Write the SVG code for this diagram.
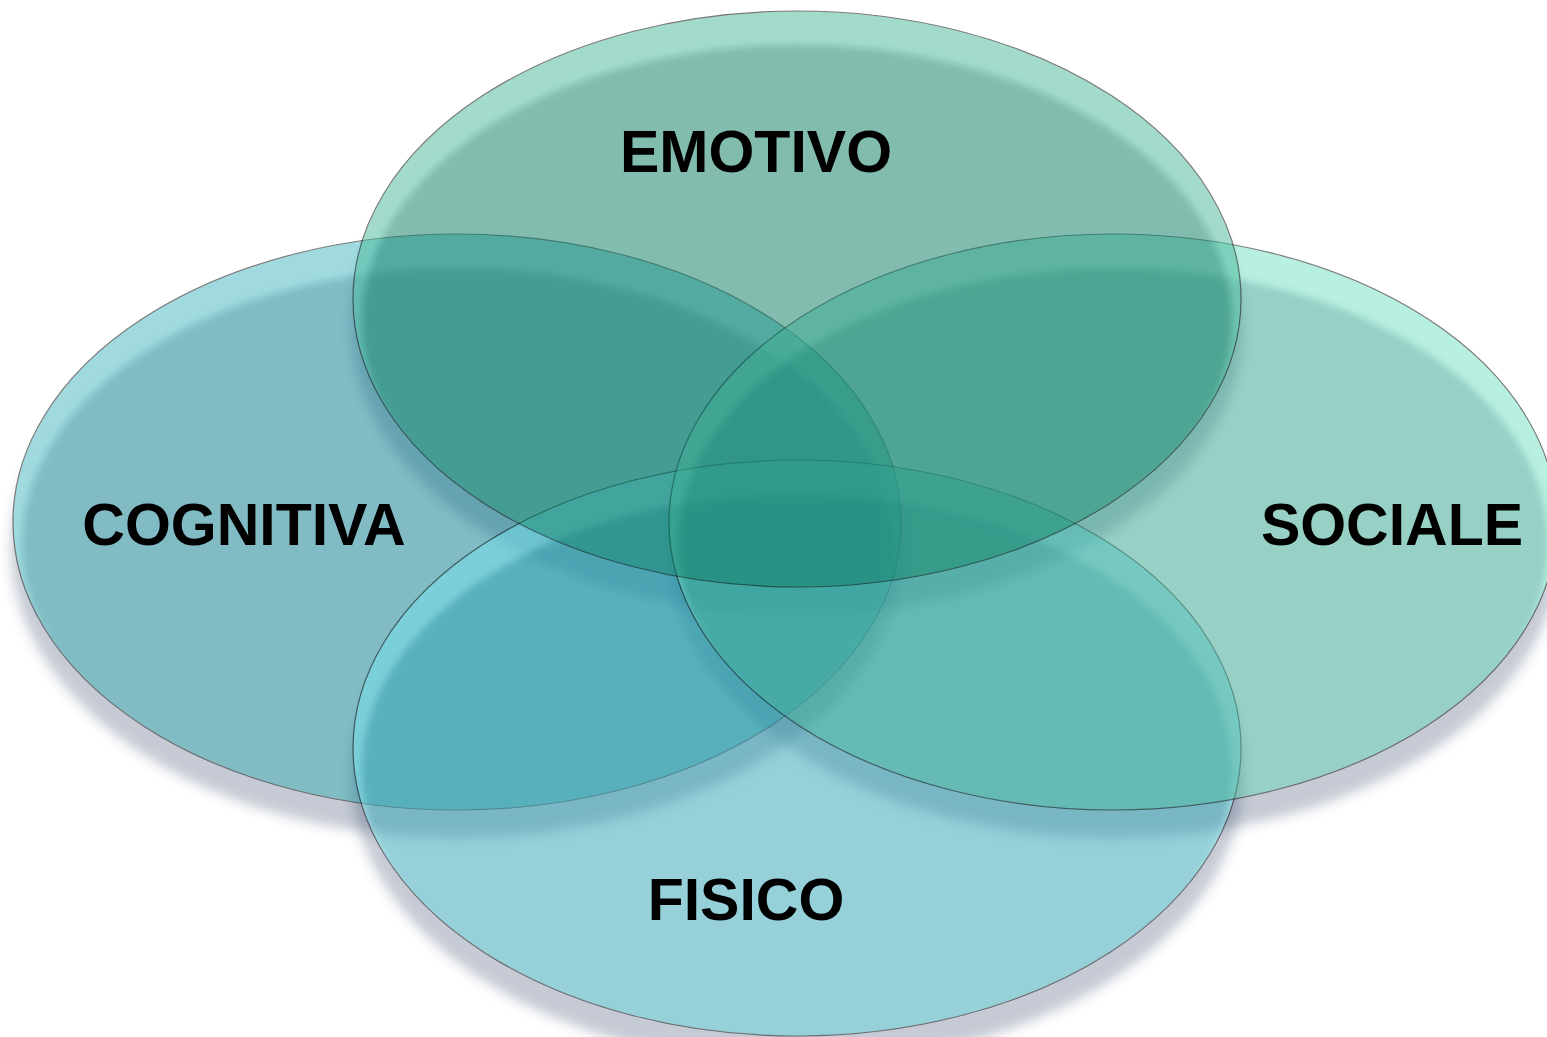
<svg xmlns="http://www.w3.org/2000/svg" width="1547" height="1037" viewBox="0 0 1547 1037">
<style>
.shadow{fill:#3c4d6b;fill-opacity:0.29;filter:url(#blurS)}
.edge{fill:none;stroke:#000;stroke-width:1.2}
.lbl{font-family:"Liberation Sans",Arial,sans-serif;font-weight:bold;font-size:59px;fill:#000;text-anchor:middle}
.layer{opacity:0.516}
</style>
<defs>
<filter id="blurS" x="-5%" y="-5%" width="110%" height="115%"><feGaussianBlur stdDeviation="6"/></filter>
<filter id="blurI" x="-5%" y="-5%" width="110%" height="110%"><feGaussianBlur stdDeviation="3.5"/></filter>
<clipPath id="cE"><ellipse cx="797" cy="299" rx="444" ry="288"/></clipPath>
<clipPath id="cC"><ellipse cx="457" cy="522" rx="444" ry="288"/></clipPath>
<clipPath id="cS"><ellipse cx="1113" cy="522" rx="444" ry="288"/></clipPath>
<clipPath id="cF"><ellipse cx="797" cy="748" rx="444" ry="288"/></clipPath>
<mask id="mE" maskUnits="userSpaceOnUse" x="0" y="0" width="1547" height="1037"><rect width="1547" height="1037" fill="#fff"/><ellipse cx="797" cy="299" rx="444" ry="288" fill="#000"/></mask>
<mask id="mC" maskUnits="userSpaceOnUse" x="0" y="0" width="1547" height="1037"><rect width="1547" height="1037" fill="#fff"/><ellipse cx="457" cy="522" rx="444" ry="288" fill="#000"/></mask>
<mask id="mS" maskUnits="userSpaceOnUse" x="0" y="0" width="1547" height="1037"><rect width="1547" height="1037" fill="#fff"/><ellipse cx="1113" cy="522" rx="444" ry="288" fill="#000"/></mask>
<mask id="mF" maskUnits="userSpaceOnUse" x="0" y="0" width="1547" height="1037"><rect width="1547" height="1037" fill="#fff"/><ellipse cx="797" cy="748" rx="444" ry="288" fill="#000"/></mask>
</defs>
<rect width="1547" height="1037" fill="#fff"/>
<g id="shadows">
<g mask="url(#mC)"><ellipse class="shadow" cx="457" cy="549" rx="446" ry="289"/></g>
<g mask="url(#mF)"><ellipse class="shadow" cx="797" cy="775" rx="446" ry="289"/></g>
<g mask="url(#mS)"><ellipse class="shadow" cx="1113" cy="549" rx="446" ry="289"/></g>
<g mask="url(#mE)"><ellipse class="shadow" cx="797" cy="326" rx="446" ry="289"/></g>
</g>
<g id="node-cognitiva">
<g class="layer">
<ellipse cx="457" cy="522" rx="444" ry="288" fill="rgb(73,185,195)"/>
<g clip-path="url(#cC)"><ellipse cx="457" cy="544" rx="435" ry="276" fill="rgb(7,127,144)" filter="url(#blurI)"/></g>
<ellipse class="edge" cx="457" cy="522" rx="444" ry="288"/>
</g>
<text class="lbl" x="244" y="545">COGNITIVA</text>
</g>
<g id="node-fisico">
<g class="layer">
<ellipse cx="797" cy="748" rx="444" ry="288" fill="rgb(118,225,236)"/>
<g clip-path="url(#cF)"><ellipse cx="797" cy="770" rx="435" ry="276" fill="rgb(53,166,183)" filter="url(#blurI)"/></g>
<ellipse class="edge" cx="797" cy="748" rx="444" ry="288"/>
</g>
<text class="lbl" x="746" y="920">FISICO</text>
</g>
<g id="node-sociale">
<g class="layer">
<ellipse cx="1113" cy="522" rx="444" ry="288" fill="rgb(117,226,199)"/>
<g clip-path="url(#cS)"><ellipse cx="1113" cy="544" rx="435" ry="276" fill="rgb(55,166,145)" filter="url(#blurI)"/></g>
<ellipse class="edge" cx="1113" cy="522" rx="444" ry="288"/>
</g>
<text class="lbl" x="1392" y="545">SOCIALE</text>
</g>
<g id="node-emotivo">
<g class="layer">
<ellipse cx="797" cy="299" rx="444" ry="288" fill="rgb(77,187,158)"/>
<g clip-path="url(#cE)"><ellipse cx="797" cy="321" rx="435" ry="276" fill="rgb(9,127,102)" filter="url(#blurI)"/></g>
<ellipse class="edge" cx="797" cy="299" rx="444" ry="288"/>
</g>
<text class="lbl" x="756" y="172">EMOTIVO</text>
</g>
</svg>
